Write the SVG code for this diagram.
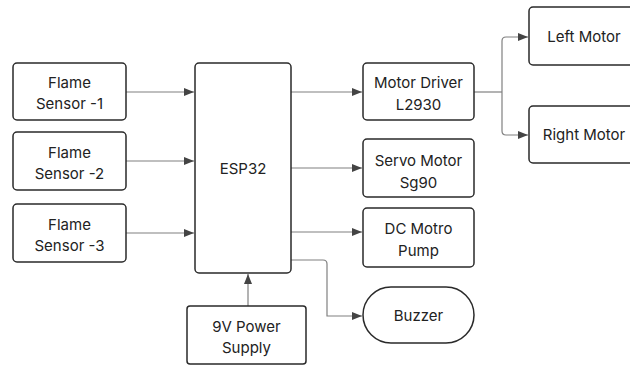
<svg xmlns="http://www.w3.org/2000/svg" width="630" height="365" viewBox="0 0 630 365">
<style>
.b{fill:#fff;stroke:#2a2a2a;stroke-width:1.5}
.t{font-family:Inter,"Liberation Sans",sans-serif;font-size:15px;fill:#222;text-anchor:middle}
.c{fill:none;stroke:#808080;stroke-width:1.2}
</style>
<defs>
<marker id="a" viewBox="0 0 10 10" refX="10" refY="5" markerWidth="10" markerHeight="10" markerUnits="userSpaceOnUse" orient="auto">
<path d="M0,1 L10,5 L0,9 Z" fill="#444"/>
</marker>
</defs>
<rect width="630" height="365" fill="#fff"/>
<g id="connectors">
<path class="c" d="M126,92 H194" marker-end="url(#a)"/>
<path class="c" d="M126,161 H194" marker-end="url(#a)"/>
<path class="c" d="M126,233 H194" marker-end="url(#a)"/>
<path class="c" d="M291,92 H362" marker-end="url(#a)"/>
<path class="c" d="M291,168 H362" marker-end="url(#a)"/>
<path class="c" d="M291,232 H362" marker-end="url(#a)"/>
<path class="c" d="M291,260 H323 Q327,260 327,264 V316 H362" marker-end="url(#a)"/>
<path class="c" d="M474,92 H502"/>
<path class="c" d="M502,92 V41 Q502,37 506,37 H528" marker-end="url(#a)"/>
<path class="c" d="M502,92 V131 Q502,135 506,135 H528" marker-end="url(#a)"/>
<path class="c" d="M248,306 V274" marker-end="url(#a)"/>
</g>
<g id="flame1"><rect class="b" x="13" y="63" width="113" height="57" rx="4"/><text class="t" x="69.5" y="88">Flame</text><text class="t" x="69.5" y="109">Sensor -1</text></g>
<g id="flame2"><rect class="b" x="13" y="132" width="113" height="58" rx="4"/><text class="t" x="69.5" y="157.5">Flame</text><text class="t" x="69.5" y="178.5">Sensor -2</text></g>
<g id="flame3"><rect class="b" x="13" y="204" width="113" height="58" rx="4"/><text class="t" x="69.5" y="229.5">Flame</text><text class="t" x="69.5" y="250.5">Sensor -3</text></g>
<g id="esp32"><rect class="b" x="195" y="63" width="96" height="210" rx="4"/><text class="t" x="243" y="174">ESP32</text></g>
<g id="motordriver"><rect class="b" x="363" y="63" width="111" height="57" rx="4"/><text class="t" x="418.5" y="88">Motor Driver</text><text class="t" x="418.5" y="110">L2930</text></g>
<g id="servo"><rect class="b" x="363" y="139" width="111" height="58" rx="4"/><text class="t" x="418.5" y="166">Servo Motor</text><text class="t" x="418.5" y="188">Sg90</text></g>
<g id="dcpump"><rect class="b" x="363" y="208" width="111" height="59" rx="4"/><text class="t" x="418.5" y="234">DC Motro</text><text class="t" x="418.5" y="256">Pump</text></g>
<g id="buzzer"><rect class="b" x="363" y="287" width="111" height="56" rx="28"/><text class="t" x="418.5" y="320.5">Buzzer</text></g>
<g id="power"><rect class="b" x="187" y="306" width="119" height="58" rx="3"/><text class="t" x="246.5" y="332">9V Power</text><text class="t" x="246.5" y="353">Supply</text></g>
<g id="leftmotor"><rect class="b" x="529" y="7" width="110" height="58" rx="4"/><text class="t" x="584" y="41.5">Left Motor</text></g>
<g id="rightmotor"><rect class="b" x="529" y="106" width="110" height="57" rx="4"/><text class="t" x="584" y="140">Right Motor</text></g>
</svg>
